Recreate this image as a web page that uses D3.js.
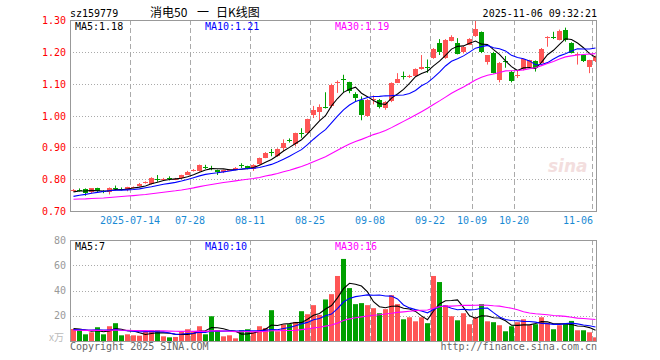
<!DOCTYPE html>
<html><head><meta charset="utf-8">
<script src="https://cdn.jsdelivr.net/npm/d3@7/dist/d3.min.js"></script>
<style>body{margin:0;background:#fff}svg{display:block}</style>
</head><body>
<svg id="c" width="660" height="360"></svg>
<script>
// ---------- data ----------
const dates = [
"2025-06-30","2025-07-01","2025-07-02","2025-07-03","2025-07-04","2025-07-07","2025-07-08","2025-07-09","2025-07-10","2025-07-11",
"2025-07-14","2025-07-15","2025-07-16","2025-07-17","2025-07-18","2025-07-21","2025-07-22","2025-07-23","2025-07-24","2025-07-25",
"2025-07-28","2025-07-29","2025-07-30","2025-07-31","2025-08-01","2025-08-04","2025-08-05","2025-08-06","2025-08-07","2025-08-08",
"2025-08-11","2025-08-12","2025-08-13","2025-08-14","2025-08-15","2025-08-18","2025-08-19","2025-08-20","2025-08-21","2025-08-22",
"2025-08-25","2025-08-26","2025-08-27","2025-08-28","2025-08-29","2025-09-01","2025-09-02","2025-09-03","2025-09-04","2025-09-05",
"2025-09-08","2025-09-09","2025-09-10","2025-09-11","2025-09-12","2025-09-15","2025-09-16","2025-09-17","2025-09-18","2025-09-19",
"2025-09-22","2025-09-23","2025-09-24","2025-09-25","2025-09-26","2025-09-29","2025-09-30","2025-10-09","2025-10-10","2025-10-13",
"2025-10-14","2025-10-15","2025-10-16","2025-10-17","2025-10-20","2025-10-21","2025-10-22","2025-10-23","2025-10-24","2025-10-27",
"2025-10-28","2025-10-29","2025-10-30","2025-10-31","2025-11-03","2025-11-04","2025-11-05","2025-11-06"];

const opens = [
.765,.767,.769,.758,.771,.762,.758,.773,.770,.764,
.773,.779,.789,.784,.802,.799,.804,.800,.802,.816,
.828,.826,.837,.836,.828,.821,.828,.830,.843,.840,
.831,.847,.868,.886,.873,.899,.923,.911,.946,.944,
1.000,1.011,1.027,1.030,1.102,1.114,1.104,1.066,1.050,1.000,
1.050,1.050,1.024,1.045,1.104,1.124,1.122,1.125,1.146,1.152,
1.180,1.227,1.180,1.235,1.229,1.199,1.223,1.249,1.262,1.168,
1.197,1.114,1.172,1.137,1.126,1.145,1.152,1.171,1.166,1.244,
1.247,1.238,1.270,1.228,1.190,1.189,1.150,1.172];
const highs = [
.769,.771,.771,.772,.773,.765,.774,.780,.774,.776,
.777,.788,.793,.806,.813,.804,.809,.804,.814,.826,
.832,.846,.845,.842,.830,.830,.831,.838,.850,.842,
.847,.868,.885,.895,.897,.925,.928,.946,.960,.990,
1.030,1.035,1.073,1.100,1.110,1.128,1.106,1.073,1.060,1.052,
1.063,1.052,1.045,1.104,1.133,1.138,1.128,1.148,1.190,1.176,
1.212,1.240,1.240,1.252,1.243,1.218,1.243,1.300,1.264,1.190,
1.200,1.168,1.187,1.140,1.140,1.178,1.175,1.173,1.212,1.249,
1.263,1.270,1.276,1.230,1.197,1.192,1.175,1.188];
const lows = [
.761,.761,.748,.755,.760,.756,.752,.765,.765,.762,
.771,.777,.786,.783,.792,.795,.796,.797,.800,.814,
.824,.824,.832,.828,.813,.819,.826,.828,.835,.831,
.826,.845,.866,.872,.870,.888,.915,.903,.930,.942,
.992,.985,1.022,1.025,1.071,1.071,1.070,1.045,.985,.996,
1.035,1.022,1.018,1.042,1.102,1.113,1.118,1.123,1.144,1.134,
1.178,1.190,1.178,1.233,1.192,1.195,1.221,1.247,1.196,1.160,
1.132,1.104,1.150,1.104,1.118,1.142,1.150,1.138,1.164,1.216,
1.240,1.236,1.232,1.195,1.160,1.168,1.133,1.168];
const closes = [
.767,.765,.755,.771,.761,.760,.772,.771,.769,.774,
.775,.786,.790,.803,.799,.800,.802,.801,.812,.824,
.829,.844,.836,.833,.821,.828,.829,.836,.841,.833,
.844,.865,.883,.884,.896,.915,.921,.944,.943,.988,
1.016,1.026,1.024,1.097,1.104,1.112,1.076,1.055,1.003,1.050,
1.052,1.027,1.042,1.102,1.115,1.123,1.124,1.146,1.151,1.151,
1.208,1.198,1.238,1.248,1.194,1.215,1.241,1.272,1.199,1.189,
1.134,1.166,1.171,1.108,1.127,1.176,1.173,1.150,1.210,1.246,
1.245,1.267,1.238,1.197,1.192,1.171,1.173,1.183];
const volumes = [
9.5,8.5,5.3,6.9,10.9,5.3,11.7,14.1,4.5,5.3,
4.5,4.2,7.2,8.5,8.5,3.7,2.9,3.2,7.2,9.3,
7.2,11.7,5.3,19.6,8.5,3.7,4.5,2.1,8.5,9.3,
7.2,11.7,10.3,24.4,7.7,13.0,13.3,15.1,23.6,21.2,
28.4,20.7,32.9,37.1,51.5,65.0,41.9,29.2,30.0,28.4,
26.0,22.0,25.2,36.3,29.2,17.2,18.8,15.6,18.8,14.1,
51.5,46.7,28.4,19.6,16.4,22.0,13.3,18.8,29.2,15.6,
14.9,12.5,7.7,11.7,14.9,17.2,12.5,13.3,18.8,14.1,
9.3,12.5,13.3,15.9,8.5,8.5,6.9,2.9];
// closes / volumes of the 29 sessions before the first candle (only feed the moving averages)
const priorCloses = [.745,.742,.738,.735,.730,.728,.725,.727,.730,.732,.735,.733,.730,.728,.731,.734,.736,.733,.730,.728,
.728,.730,.733,.735,.734,.750,.755,.762,.766];
const priorVolumes = [8,9,7.5,10,8.5,7,9,8,6.5,9.5,8,7.5,10,8,9,7,8.5,9,7.5,8.5,
7,9,8,8.5,8.5,10.5,9,11,9];

const priceTicks = [0.70,0.80,0.90,1.00,1.10,1.20,1.30];
const volTicks = [20,40,60,80];
const xTickDates = ["2025-07-14","2025-07-28","2025-08-11","2025-08-25","2025-09-08","2025-09-22","2025-10-09","2025-10-20","2025-11-06"];
const xTickLabels = ["2025-07-14","07-28","08-11","08-25","09-08","09-22","10-09","10-20","11-06"];
const maPeriods = [5,10,30];
const priceLegend = ["MA5:1.18","MA10:1.21","MA30:1.19"];
const volLegend = ["MA5:7","MA10:10","MA30:16"];

// ---------- layout ----------
const L=70, R=597, PT=20, PB=211, VT=240, VB=341;
const MONO = "'DejaVu Sans Mono', monospace";
const UP="#ff5555", DOWN="#00a000";
const maColors = ["#000000","#0000ff","#ff00ff"];

const svg = d3.select("#c");
const x = d3.scaleBand().domain(dates).range([L, L+6*dates.length]).paddingInner(0).paddingOuter(0);
const y = d3.scaleLinear().domain([0.70,1.30]).range([PB,PT]);
const yv = d3.scaleLinear().domain([0,80]).range([VB,VT]);

const defs = svg.append("defs");
defs.append("clipPath").attr("id","cp").append("rect").attr("x",L).attr("y",PT).attr("width",R-L).attr("height",PB-PT);
defs.append("clipPath").attr("id","cv").append("rect").attr("x",L).attr("y",VT).attr("width",R-L).attr("height",VB-VT);

function ma(prior, vals, n){
  const all = prior.concat(vals), off = prior.length;
  return vals.map((v,i)=> d3.mean(all.slice(off+i-n+1, off+i+1)));
}

// ---------- grids ----------
function grid(top,bottom,hTicks,ys){
  const g = svg.append("g");
  g.selectAll(".h").data(hTicks).join("line")
    .attr("x1",L).attr("x2",R).attr("y1",d=>Math.round(ys(d))+0.5).attr("y2",d=>Math.round(ys(d))+0.5)
    .attr("stroke","#aaa").attr("stroke-dasharray","1,2");
  g.selectAll(".v").data(xTickDates).join("line")
    .attr("x1",d=>x(d)+0.5).attr("x2",d=>x(d)+0.5).attr("y1",top).attr("y2",bottom)
    .attr("stroke","#aaa").attr("stroke-dasharray","5,3");
}
grid(PT,PB,priceTicks.slice(1,-1),y);
grid(VT,VB,volTicks.slice(0,-1),yv);

// ---------- sina watermark ----------
svg.append("text").attr("x",548).attr("y",172).attr("font-family","'DejaVu Sans', sans-serif")
  .attr("font-size",17).attr("font-weight","bold").attr("font-style","italic")
  .attr("fill","#f3dede").text("sina");

// ---------- candles ----------
const cg = svg.append("g").attr("clip-path","url(#cp)");
const idx = d3.range(dates.length);
const col = i => closes[i] >= opens[i] ? UP : DOWN;
cg.selectAll(".w").data(idx).join("line")
  .attr("x1",i=>x(dates[i])+3.5).attr("x2",i=>x(dates[i])+3.5)
  .attr("y1",i=>y(highs[i])).attr("y2",i=>y(lows[i]))
  .attr("stroke",col).attr("stroke-width",1);
cg.selectAll(".b").data(idx).join("rect")
  .attr("x",i=>x(dates[i])+1).attr("width",5)
  .attr("y",i=>Math.round(y(Math.max(opens[i],closes[i]))))
  .attr("height",i=>Math.max(1,Math.round(Math.abs(y(opens[i])-y(closes[i])))))
  .attr("fill",col);

// price MAs
maPeriods.forEach((n,k)=>{
  const vals = ma(priorCloses, closes, n);
  cg.append("path").datum(vals)
    .attr("d", d3.line().x((v,i)=>x(dates[i])+3.5).y(v=>y(v)))
    .attr("fill","none").attr("stroke",maColors[k]).attr("stroke-width",1.1);
});

// ---------- volume ----------
const vg = svg.append("g").attr("clip-path","url(#cv)");
vg.selectAll(".vb").data(idx).join("rect")
  .attr("x",i=>x(dates[i])+1).attr("width",5)
  .attr("y",i=>yv(volumes[i])).attr("height",i=>VB-yv(volumes[i]))
  .attr("fill",col);
maPeriods.forEach((n,k)=>{
  const vals = ma(priorVolumes, volumes, n);
  vg.append("path").datum(vals)
    .attr("d", d3.line().x((v,i)=>x(dates[i])+3.5).y(v=>yv(v)))
    .attr("fill","none").attr("stroke",maColors[k]).attr("stroke-width",1.1);
});

// ---------- frames ----------
[[PT,PB],[VT,VB]].forEach(([t,b])=>{
  svg.append("rect").attr("x",L+0.5).attr("y",t+0.5).attr("width",R-L-1).attr("height",b-t)
    .attr("fill","none").attr("stroke","#999").attr("stroke-width",1);
});

// ---------- axes text ----------
const yAxis = d3.axisLeft(y).tickValues(priceTicks).tickFormat(d3.format(".2f")).tickSize(0).tickPadding(4);
const ya = svg.append("g").attr("transform",`translate(${L},0)`).call(yAxis);
ya.select(".domain").remove();
ya.selectAll("text").attr("font-family",MONO).attr("font-size",10).attr("fill","#f00").attr("dy","0.36em");

const vAxis = d3.axisLeft(yv).tickValues(volTicks).tickSize(0).tickPadding(4);
const va = svg.append("g").attr("transform",`translate(${L},0)`).call(vAxis);
va.select(".domain").remove();
va.selectAll("text").attr("font-family",MONO).attr("font-size",10).attr("fill","#999").attr("dy","0.3em");
svg.append("text").attr("x",64).attr("y",341).attr("text-anchor","end")
  .attr("font-family","'Noto Sans CJK SC'").attr("font-size",10).attr("fill","#bbb").text("x万");

const xa = svg.append("g").attr("transform",`translate(0,${PB})`)
  .call(d3.axisBottom(x).tickValues(xTickDates).tickSize(0).tickPadding(6)
    .tickFormat((d,i)=>xTickLabels[i]));
xa.select(".domain").remove();
xa.selectAll(".tick").attr("transform",d=>`translate(${x(d)},0)`);
xa.selectAll("text").attr("font-family",MONO).attr("font-size",10).attr("fill","#1a8ad4")
  .attr("text-anchor",(d,i)=> i===xTickDates.length-1 ? "end":"middle")
  .attr("dx",(d,i)=> i===xTickDates.length-1 ? "1":"0");

// ---------- legends ----------
const legX = [75,205,335];
priceLegend.forEach((t,k)=> svg.append("text").attr("x",legX[k]).attr("y",29.5)
  .attr("font-family",MONO).attr("font-size",10).attr("fill",maColors[k]).text(t));
volLegend.forEach((t,k)=> svg.append("text").attr("x",legX[k]).attr("y",250)
  .attr("font-family",MONO).attr("font-size",10).attr("fill",maColors[k]).text(t));

// ---------- header / footer ----------
svg.append("text").attr("x",70).attr("y",16.5).attr("font-family",MONO).attr("font-size",10).attr("fill","#000").text("sz159779");
const title = svg.append("text").attr("y",16.5).attr("font-family","'Noto Sans CJK SC', sans-serif").attr("font-size",12).attr("fill","#000");
title.append("tspan").attr("x",150).text("消电50");
title.append("tspan").attr("x",197).text("一");
title.append("tspan").attr("x",216).text("日K线图");
svg.append("text").attr("x",597).attr("y",16.5).attr("text-anchor","end").attr("font-family",MONO).attr("font-size",10).attr("fill","#000").text("2025-11-06 09:32:21");
svg.append("text").attr("x",70).attr("y",350).attr("font-family",MONO).attr("font-size",10).attr("fill","#666").text("Copyright 2025 SINA.COM");
svg.append("text").attr("x",597).attr("y",350).attr("text-anchor","end").attr("font-family",MONO).attr("font-size",10).attr("fill","#666").text("http://finance.sina.com.cn");
</script>
</body></html>
